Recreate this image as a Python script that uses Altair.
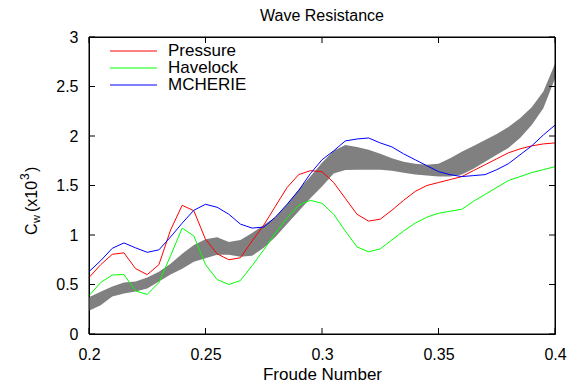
import altair as alt
import pandas as pd

FONT = "Liberation Sans"

froude = [0.2, 0.205, 0.21, 0.215, 0.22, 0.225, 0.23, 0.235, 0.24, 0.245, 0.25,
          0.255, 0.26, 0.265, 0.27, 0.275, 0.28, 0.285, 0.29, 0.295, 0.3,
          0.305, 0.31, 0.315, 0.32, 0.325, 0.33, 0.335, 0.34, 0.345, 0.35,
          0.355, 0.36, 0.365, 0.37, 0.375, 0.38, 0.385, 0.39, 0.395, 0.4]

pressure = [0.57, 0.70, 0.805, 0.82, 0.66, 0.60, 0.70, 1.05, 1.30, 1.245, 0.956,
            0.81, 0.75, 0.77, 0.94, 1.10, 1.29, 1.48, 1.61, 1.65, 1.64,
            1.53, 1.37, 1.21, 1.14, 1.16, 1.25, 1.35, 1.44, 1.50, 1.53,
            1.56, 1.59, 1.65, 1.71, 1.77, 1.83, 1.87, 1.90, 1.92, 1.93]

havelock = [0.387, 0.52, 0.596, 0.60, 0.434, 0.40, 0.52, 0.79, 1.07, 0.99, 0.70,
            0.55, 0.50, 0.54, 0.69, 0.85, 1.02, 1.17, 1.30, 1.35, 1.32,
            1.21, 1.04, 0.88, 0.83, 0.86, 0.95, 1.04, 1.12, 1.18, 1.22,
            1.24, 1.26, 1.34, 1.41, 1.48, 1.55, 1.59, 1.63, 1.66, 1.69]

mcherie = [0.63, 0.74, 0.866, 0.92, 0.87, 0.825, 0.85, 0.98, 1.12, 1.25, 1.31,
           1.28, 1.21, 1.11, 1.07, 1.08, 1.18, 1.31, 1.45, 1.62, 1.76,
           1.85, 1.95, 1.97, 1.98, 1.93, 1.89, 1.82, 1.76, 1.70, 1.64,
           1.61, 1.59, 1.60, 1.61, 1.66, 1.72, 1.81, 1.90, 2.01, 2.11]

band_upper = [0.37, 0.427, 0.48, 0.52, 0.53, 0.57, 0.63, 0.71, 0.81, 0.90, 0.956,
              0.977, 0.93, 0.95, 1.02, 1.10, 1.18, 1.31, 1.46, 1.59, 1.73,
              1.85, 1.91, 1.89, 1.86, 1.82, 1.775, 1.74, 1.72, 1.71, 1.72,
              1.775, 1.84, 1.90, 1.96, 2.02, 2.09, 2.18, 2.29, 2.45, 2.73]

band_lower = [0.235, 0.29, 0.38, 0.41, 0.43, 0.46, 0.53, 0.60, 0.66, 0.73, 0.765,
              0.80, 0.80, 0.78, 0.79, 0.87, 0.98, 1.11, 1.24, 1.37, 1.49,
              1.62, 1.656, 1.66, 1.66, 1.66, 1.65, 1.63, 1.61, 1.60, 1.59,
              1.59, 1.61, 1.67, 1.74, 1.81, 1.88, 1.98, 2.11, 2.28, 2.58]

series_names = ["Pressure", "Havelock", "MCHERIE"]
series_colors = ["#ff0000", "#00ff00", "#0000ff"]

x_ticks = [0.2, 0.25, 0.3, 0.35, 0.4]
y_ticks = [0, 0.5, 1, 1.5, 2, 2.5, 3]

W, H = 466, 297
TICK = 6

df = pd.DataFrame({
    "froude": froude,
    "Pressure": pressure,
    "Havelock": havelock,
    "MCHERIE": mcherie,
    "upper": band_upper,
    "lower": band_lower,
})
long_df = df.melt(id_vars="froude", value_vars=series_names,
                  var_name="series", value_name="cw")

xs = alt.Scale(domain=[0.2, 0.4], nice=False, zero=False)
ys = alt.Scale(domain=[0, 3], nice=False, zero=False)

x_axis = alt.Axis(values=x_ticks, format="~g", title="Froude Number",
                  ticks=False, tickSize=0, domain=False, grid=False,
                  labelFlush=False, labelPadding=12, labelFontSize=16,
                  titleFontSize=17, titleFontWeight="normal",
                  titleX=W / 2, titleY=45,
                  titleBaseline="alphabetic", titleAlign="center")
y_axis = alt.Axis(values=y_ticks, format="~g", title="",
                  ticks=False, tickSize=0, domain=False, grid=False,
                  labelFlush=False, labelPadding=11, labelFontSize=16,
                  labelBaseline="middle")

band = alt.Chart(df).mark_area(color="#808080", opacity=1).encode(
    x=alt.X("froude:Q", scale=xs, axis=x_axis),
    y=alt.Y("upper:Q", scale=ys, axis=y_axis),
    y2="lower:Q",
)

lines = alt.Chart(long_df).mark_line(strokeWidth=1).encode(
    x=alt.X("froude:Q", scale=xs, axis=x_axis),
    y=alt.Y("cw:Q", scale=ys, axis=y_axis),
    color=alt.Color("series:N",
                    scale=alt.Scale(domain=series_names, range=series_colors),
                    legend=None),
    order="froude:Q",
)

xt = pd.DataFrame({"t": x_ticks})
yt = pd.DataFrame({"t": y_ticks})
bottom_ticks = alt.Chart(xt).mark_rule(color="black", strokeWidth=1).encode(
    x=alt.X("t:Q", scale=xs, axis=x_axis), y=alt.value(H), y2=alt.value(H - TICK))
top_ticks = alt.Chart(xt).mark_rule(color="black", strokeWidth=1).encode(
    x=alt.X("t:Q", scale=xs, axis=x_axis), y=alt.value(0), y2=alt.value(TICK))
left_ticks = alt.Chart(yt).mark_rule(color="black", strokeWidth=1).encode(
    y=alt.Y("t:Q", scale=ys, axis=y_axis), x=alt.value(0), x2=alt.value(TICK))
right_ticks = alt.Chart(yt).mark_rule(color="black", strokeWidth=1).encode(
    y=alt.Y("t:Q", scale=ys, axis=y_axis), x=alt.value(W), x2=alt.value(W - TICK))

one = alt.Data(values=[{}])

# plot frame
frame_layers = [
    alt.Chart(one).mark_rule(color="black", strokeWidth=1).encode(
        x=alt.value(0), x2=alt.value(W), y=alt.value(0)),
    alt.Chart(one).mark_rule(color="black", strokeWidth=1).encode(
        x=alt.value(0), x2=alt.value(W), y=alt.value(H)),
    alt.Chart(one).mark_rule(color="black", strokeWidth=1).encode(
        x=alt.value(0), y=alt.value(0), y2=alt.value(H)),
    alt.Chart(one).mark_rule(color="black", strokeWidth=1).encode(
        x=alt.value(W), y=alt.value(0), y2=alt.value(H)),
]

title = alt.Chart(one).mark_text(
    text="Wave Resistance", font=FONT, fontSize=16, align="center",
    baseline="alphabetic", color="black").encode(
    x=alt.value(W / 2), y=alt.value(-16))

# legend
legend_layers = []
for i, (name, col) in enumerate(zip(series_names, series_colors)):
    yy = 14 + 17 * i
    legend_layers.append(
        alt.Chart(one).mark_rule(color=col, strokeWidth=1).encode(
            x=alt.value(21), x2=alt.value(68), y=alt.value(yy)))
    legend_layers.append(
        alt.Chart(one).mark_text(
            text=name, font=FONT, fontSize=17, align="left",
            baseline="middle", color="black").encode(
            x=alt.value(79), y=alt.value(yy)))

# y axis title: C_w (x10^3)
ytitle_parts = [
    ("C", 16, -52, 198),
    ("w", 11, -49, 186),
    ("(x10", 16, -52, 175),
    ("3", 12, -60, 143),
    (")", 16, -52, 135),
]
ytitle_layers = [
    alt.Chart(one).mark_text(
        text=t, font=FONT, fontSize=fs, angle=270, align="left",
        baseline="alphabetic", color="black").encode(
        x=alt.value(xv), y=alt.value(yv))
    for t, fs, xv, yv in ytitle_parts
]

chart = alt.layer(
    band, lines, bottom_ticks, top_ticks, left_ticks, right_ticks,
    *frame_layers, title, *legend_layers, *ytitle_layers,
).properties(
    width=W, height=H,
    autosize=alt.AutoSizeParams(type="none"),
    padding={"left": 81, "top": 29, "right": 16, "bottom": 50},
).configure_view(
    stroke="black", strokeWidth=1
).configure_axis(
    labelFont=FONT, titleFont=FONT, labelColor="black", titleColor="black"
)

chart.save("out.html", embed_options={"renderer": "svg", "actions": False})
